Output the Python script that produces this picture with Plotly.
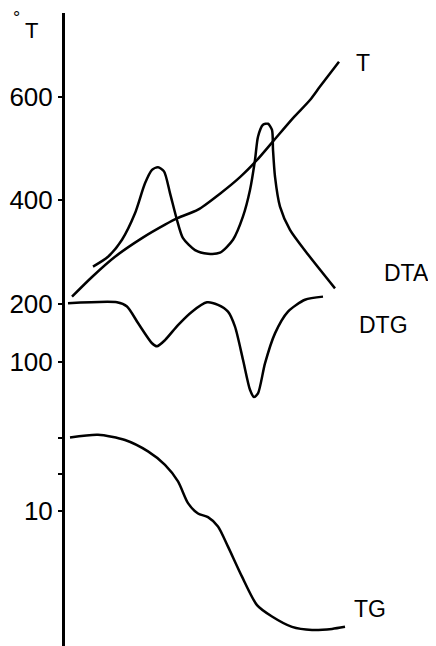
import plotly.graph_objects as go

# Schematic thermal analysis curves (x: time, arbitrary units; y: composite scale)
T_x = [7, 27, 50, 77, 100, 113, 133, 155, 175, 192, 208, 228, 245, 255, 274]
T_y = [214, 252, 291, 327, 353, 366, 382, 413, 445, 478, 514, 559, 594, 620, 668]

DTA_x = [28, 43, 57, 70, 80, 87, 93, 99, 105, 112, 118, 130, 143, 155, 168, 178, 185,
         190, 193, 198, 203, 207, 208, 210, 215, 225, 242, 270]
DTA_y = [272, 291, 324, 375, 433, 459, 464, 456, 414, 362, 327, 304, 297, 299, 324, 369, 420,
         478, 523, 546, 548, 536, 498, 446, 388, 343, 298, 230]

DTG_x = [3, 52, 62, 73, 87, 92, 100, 113, 127, 142, 153, 163, 170, 178, 185, 189, 193,
         200, 210, 223, 240, 258]
DTG_y = [201, 203, 195, 163, 124, 118, 130, 159, 185, 203, 198, 185, 156, 92, 34, 20, 27,
         85, 143, 185, 208, 214]

TG_x = [5, 33, 60, 83, 100, 113, 123, 133, 143, 153, 163, 177, 192, 207, 227, 247, 267, 280]
TG_y = [-58, -53, -63, -85, -111, -143, -185, -205, -212, -230, -269, -327, -382, -404,
        -424, -430, -428, -424]

tick_vals = [600, 400, 200, 88, -59, -128, -200]
tick_text = ["600", "400", "200", "100", "", "", "10"]

curve_labels = ["T", "DTA", "DTG", "TG"]
label_x = [298, 341, 318, 305]
label_y = [666, 260, 159, -389]

FONT = "Liberation Sans Narrow, Liberation Sans, Arial, sans-serif"

fig = go.Figure()
for xs, ys in [(T_x, T_y), (DTA_x, DTA_y), (DTG_x, DTG_y), (TG_x, TG_y)]:
    fig.add_trace(go.Scatter(x=xs, y=ys, mode="lines",
                             line=dict(color="black", width=2.5, shape="spline", smoothing=0.7),
                             hoverinfo="skip", showlegend=False))

for t, x, y in zip(curve_labels, label_x, label_y):
    fig.add_annotation(x=x, y=y, text=t, showarrow=False,
                       font=dict(family=FONT, size=23, color="black"),
                       xanchor="center", yanchor="middle")

fig.add_annotation(xref="paper", yref="y", x=-0.0916, y=728, text="T", showarrow=False,
                   xanchor="center", yanchor="middle",
                   font=dict(family=FONT, size=22, color="black"))
fig.add_annotation(xref="paper", yref="y", x=-0.132, y=752, text="°", showarrow=False,
                   xanchor="center", yanchor="middle",
                   font=dict(family=FONT, size=18, color="black"))

# page body has an 8px margin, so the figure is 8px smaller than the window
fig.update_layout(
    width=428, height=638,
    margin=dict(l=57, r=0, t=5, b=0, autoexpand=False),
    paper_bgcolor="white", plot_bgcolor="white",
    xaxis=dict(range=[0, 371], visible=False, fixedrange=True, automargin=False),
    yaxis=dict(range=[-461, 762], showgrid=False, zeroline=False, automargin=False,
               showline=True, linecolor="black", linewidth=3,
               ticks="outside", ticklen=4, tickwidth=2, tickcolor="black",
               tickvals=tick_vals, ticktext=tick_text,
               tickfont=dict(family=FONT, size=26, color="black"),
               fixedrange=True),
)

fig.write_html("out.html")
